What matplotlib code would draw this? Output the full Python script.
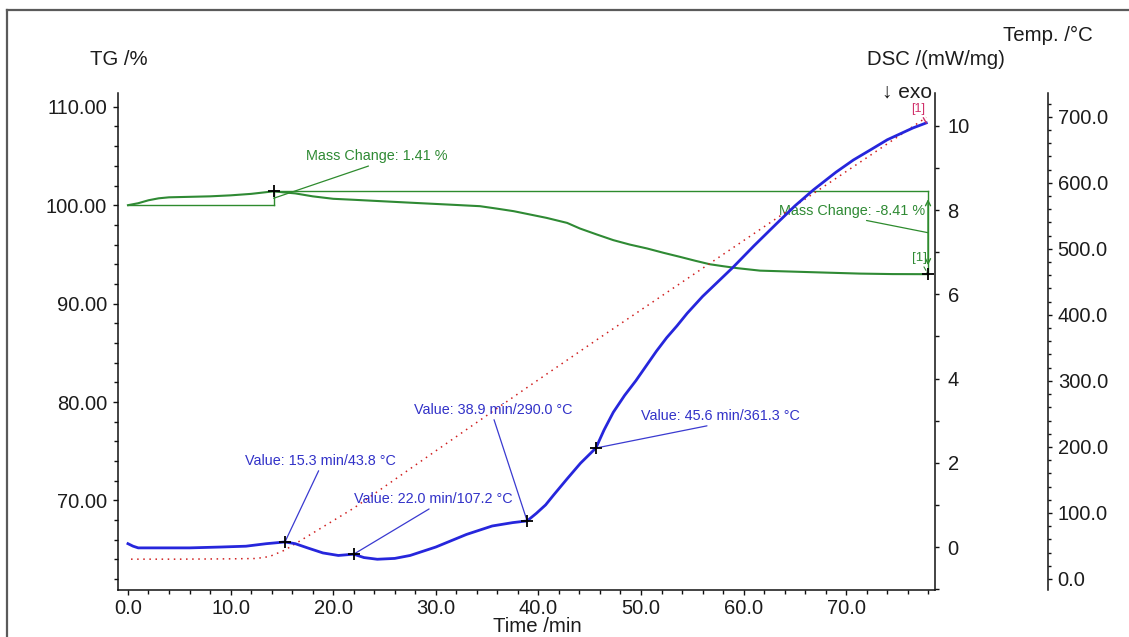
import numpy as np
import matplotlib
matplotlib.use('Agg')
import matplotlib.pyplot as plt
from matplotlib.ticker import MultipleLocator, FormatStrFormatter
from matplotlib.lines import Line2D

plt.rcParams['font.family'] = ['Liberation Sans', 'DejaVu Sans']

# ---------------- data ----------------
tg_time = [0, 1, 2, 3, 4, 6, 8, 10, 12, 14.2, 15.2, 16.3, 18, 20, 22, 24.6, 27.8, 31.1,
           34.3, 35.9, 37.6, 39.2, 40.8, 42.8, 44.05, 45.7, 47.3, 48.9, 50.6, 52.2,
           53.8, 55.3, 56.7, 58, 59.4, 61.6, 64.8, 68, 71.3, 74.5, 77.97]
tg_value = [100.0, 100.2, 100.5, 100.7, 100.8, 100.85, 100.9, 101.0, 101.15, 101.41,
            101.3, 101.2, 100.9, 100.65, 100.55, 100.41, 100.24, 100.07,
            99.9, 99.66, 99.39, 99.05, 98.71, 98.2, 97.63, 97.02, 96.45, 96.0, 95.6,
            95.16, 94.75, 94.35, 94.0, 93.8, 93.6, 93.35, 93.25, 93.15, 93.05, 93.0,
            92.99]

dsc_time = [0, 0.5, 1, 3, 6, 9, 11.5, 13.5, 15.3, 16.3, 17.5, 19, 20.5, 22, 23, 24.3,
            26, 27.5, 30, 33, 35.5, 37.5, 38.9, 39.8, 40.7, 41.5, 42.8, 44.1, 45.6,
            46.4, 47.3, 48.4, 49.5, 50.5, 51.5, 52.5, 53.5, 54.5, 56, 59, 61, 63.3,
            65, 66.8, 69, 70.7, 72.5, 74, 76.5, 77.8]
dsc_value = [0.08, 0.02, -0.02, -0.02, -0.02, 0.0, 0.02, 0.08, 0.12, 0.08, -0.02,
             -0.14, -0.2, -0.17, -0.25, -0.29, -0.27, -0.2, 0.0, 0.3, 0.5, 0.58,
             0.62, 0.8, 1.0, 1.24, 1.62, 1.99, 2.35, 2.78, 3.2, 3.6, 3.95, 4.3,
             4.65, 4.97, 5.25, 5.55, 5.95, 6.65, 7.15, 7.7, 8.1, 8.48, 8.9, 9.19,
             9.45, 9.67, 9.95, 10.07]

temp_time = [0.3, 5, 10, 12.5, 13.8, 15.3, 22.0, 30, 38.9, 45.6, 55, 65, 72, 77.8]
temp_value = [30, 30, 30.5, 31, 34, 43.8, 107.2, 194, 290.0, 361.3, 460, 565, 638, 699]

tg_initial = 100.0
mass_change_time = [14.2, 77.97]
mass_change_value = [1.41, -8.41]

peak_time = [15.3, 22.0, 38.9, 45.6]
peak_temp = [43.8, 107.2, 290.0, 361.3]

x_ticks = [0, 10, 20, 30, 40, 50, 60, 70]
tg_ticks = [70, 80, 90, 100, 110]
dsc_ticks = [0, 2, 4, 6, 8, 10]
temp_ticks = [0, 100, 200, 300, 400, 500, 600, 700]

# ---------------- layout ----------------
W, H = 1129, 637
fig = plt.figure(figsize=(W / 100, H / 100), dpi=100)


def fx(px):
    return px / W


def fy(py):
    return 1 - py / H


L, R, T, B = 118, 935, 93, 590
ax = fig.add_axes([fx(L), fy(B), (R - L) / W, (B - T) / H])
ax_t = ax.twinx()
ax_d = ax.twinx()

green = '#2f8a34'
blue = '#2626dc'
blue_txt = '#3232c8'
red = '#d02020'
crimson = '#d0306a'
txtc = '#1c1c1c'
fs_tick = 14.5
fs_note = 10.4

# ---- curves ----
ax.plot(tg_time, tg_value, color=green, lw=1.5, zorder=3)
ax_t.plot(temp_time, temp_value, color=red, lw=1.1, linestyle=(0, (1, 3)), zorder=2)
ax_d.plot(dsc_time, dsc_value, color=blue, lw=2.0, zorder=4)

# ---- axis limits ----
ax.set_xlim(-0.97, 78.65)
ax.set_ylim(60.9, 111.4)
ax_d.set_ylim(-1.02, 10.78)
ax_t.set_ylim(-16.7, 736)

# ---- spines ----
for s in ['top', 'right']:
    ax.spines[s].set_visible(False)
for a in (ax_t, ax_d):
    for s in ['top', 'left', 'bottom']:
        a.spines[s].set_visible(False)
ax_t.spines['right'].set_position(('axes', (1048 - L) / (R - L)))
for a in (ax, ax_t, ax_d):
    for s in a.spines.values():
        s.set_linewidth(1.1)
        s.set_color('#111111')

# ---- ticks ----
ax.set_xticks(x_ticks)
ax.xaxis.set_major_formatter(FormatStrFormatter('%.1f'))
ax.xaxis.set_minor_locator(MultipleLocator(2))
ax.set_yticks(tg_ticks)
ax.yaxis.set_major_formatter(FormatStrFormatter('%.2f'))
ax.yaxis.set_minor_locator(MultipleLocator(2))
ax_d.set_yticks(dsc_ticks)
ax_d.yaxis.set_major_formatter(FormatStrFormatter('%d'))
ax_d.yaxis.set_minor_locator(MultipleLocator(1))
ax_t.set_yticks(temp_ticks)
ax_t.yaxis.set_major_formatter(FormatStrFormatter('%.1f'))
ax_t.yaxis.set_minor_locator(MultipleLocator(20))

ax.tick_params(axis='x', which='major', length=3.5, width=1, labelsize=fs_tick,
               pad=3, colors='#111111', labelcolor=txtc)
ax.tick_params(axis='x', which='minor', length=2.8, width=1, colors='#111111')
ax.tick_params(axis='y', which='major', length=3.5, width=1, labelsize=fs_tick,
               pad=4.3, colors='#111111', labelcolor=txtc)
ax.tick_params(axis='y', which='minor', length=2.8, width=1, colors='#111111')
ax_d.tick_params(axis='y', which='major', length=3, width=1, labelsize=fs_tick,
                 pad=6, colors='#111111', labelcolor=txtc)
ax_d.tick_params(axis='y', which='minor', length=3, width=1, colors='#111111')
ax_t.tick_params(axis='y', which='major', length=3, width=1, labelsize=fs_tick,
                 pad=4, colors='#111111', labelcolor=txtc)
ax_t.tick_params(axis='y', which='minor', length=2.5, width=1, colors='#111111')

# ---- axis titles ----
fig.text(fx(119), fy(65), 'TG /%', ha='center', va='baseline', fontsize=14.7, color=txtc)
fig.text(fx(935.5), fy(65), 'DSC /(mW/mg)', ha='center', va='baseline', fontsize=14.7, color=txtc)
fig.text(fx(1048), fy(41), 'Temp. /°C', ha='center', va='baseline', fontsize=14.7, color=txtc)
fig.text(fx(932), fy(98), '↓ exo', ha='right', va='baseline', fontsize=15, color=txtc)
fig.text(fx(537), fy(632), 'Time /min', ha='center', va='baseline', fontsize=14.7, color=txtc)

# ---- mass change evaluation (TG) ----
level0 = tg_initial
level1 = tg_initial + mass_change_value[0]
level2 = level1 + mass_change_value[1]
t0, t1 = mass_change_time
lc = '#2e8b2e'
ax.plot([tg_time[0], t0], [level0, level0], color=lc, lw=1.0, zorder=2)
ax.plot([t0, t0], [level0, level1], color=lc, lw=1.0, zorder=2)
ax.plot([t0, t1], [level1, level1], color=lc, lw=1.0, zorder=2)
ax.annotate('', xy=(t1, level2 + 0.9), xytext=(t1, level1 - 0.8),
            arrowprops=dict(arrowstyle='<->', color=lc, lw=1.0,
                            mutation_scale=9, shrinkA=0, shrinkB=0), zorder=2)
ax.plot([t1, t1], [level1, level2], color=lc, lw=1.0, zorder=2)
ax.plot([t0, t1], [level1, level2], linestyle='none', marker='+', ms=9,
        mew=1.3, color='black', zorder=6)

ax.annotate(f'Mass Change: {mass_change_value[0]:.2f} %', xy=(t0, (level0 + level1) / 2),
            xytext=(103, 42), textcoords='offset pixels', ha='center', va='center',
            fontsize=fs_note, color=green,
            arrowprops=dict(arrowstyle='-', color=lc, lw=0.9, relpos=(0.5, 0.0),
                            shrinkA=0, shrinkB=0), zorder=5)
ax.annotate(f'Mass Change: {mass_change_value[1]:.2f} %', xy=(t1, (level1 + level2) / 2),
            xytext=(-75.5, 22), textcoords='offset pixels', ha='center', va='center',
            fontsize=fs_note, color=green,
            arrowprops=dict(arrowstyle='-', color=lc, lw=0.9, relpos=(0.5, 0.0),
                            shrinkA=0, shrinkB=0), zorder=5)
ax.annotate('[1]', xy=(t1, level2), xytext=(-9, 16), textcoords='offset pixels',
            ha='center', va='center', fontsize=9.5, color=green,
            arrowprops=dict(arrowstyle='-', color=green, lw=0.8, linestyle='--',
                            shrinkA=0, shrinkB=0), zorder=5)

# ---- DSC peak annotations ----
peak_dsc = np.interp(peak_time, dsc_time, dsc_value)
ax_d.plot(peak_time, peak_dsc, linestyle='none', marker='+', ms=9, mew=1.3,
          color='black', zorder=6)
label_offsets = [(35, 81), (80, 55), (-34, 111), (125, 32)]
for t, tc, d, off in zip(peak_time, peak_temp, peak_dsc, label_offsets):
    ax_d.annotate(f'Value: {t:.1f} min/{tc:.1f} °C', xy=(t, d), xytext=off,
                  textcoords='offset pixels', ha='center', va='center',
                  fontsize=fs_note, color=blue_txt,
                  arrowprops=dict(arrowstyle='-', color='#3a3ad0', lw=0.9,
                                  relpos=(0.5, 0.0), shrinkA=0, shrinkB=0), zorder=5)

ax_d.annotate('[1]', xy=(dsc_time[-1], dsc_value[-1]), xytext=(-8, 14),
              textcoords='offset pixels', ha='center', va='center', fontsize=9,
              color=crimson,
              arrowprops=dict(arrowstyle='-', color=crimson, lw=1.0,
                              shrinkA=0, shrinkB=0), zorder=5)

# ---- outer frame ----
fc = '#5a5a5a'
fig.add_artist(Line2D([fx(7), fx(7)], [0, fy(10)], color=fc, lw=1.6))
fig.add_artist(Line2D([fx(7), 1], [fy(10), fy(10)], color=fc, lw=1.6))

fig.savefig('out.png', dpi=100)
